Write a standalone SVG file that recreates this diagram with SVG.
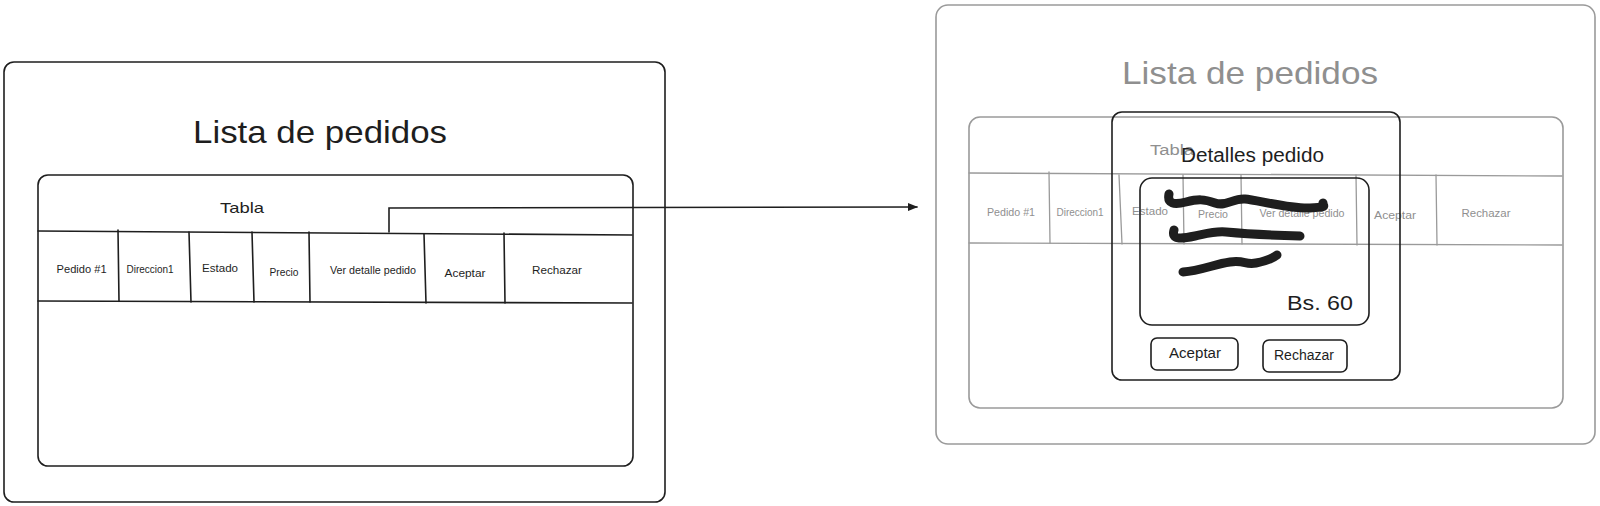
<svg xmlns="http://www.w3.org/2000/svg" width="1600" height="506" viewBox="0 0 1600 506">
<defs>
<style>
.box{fill:none;stroke:#1e1e1e;stroke-width:1.6;}
.ln{fill:none;stroke:#1e1e1e;stroke-width:1.6;stroke-linecap:round;}
.gbox{fill:none;stroke:#9a9a9a;stroke-width:1.6;}
.gln{fill:none;stroke:#9a9a9a;stroke-width:1.3;stroke-linecap:round;}
.t{font-family:"Liberation Sans",Arial,sans-serif;fill:#1e1e1e;}
.gt{font-family:"Liberation Sans",Arial,sans-serif;fill:#8f8f8f;}
.scr{fill:none;stroke:#1e1e1e;stroke-width:9;stroke-linecap:round;stroke-linejoin:round;}
</style>
<marker id="arr" markerWidth="10" markerHeight="8" refX="9" refY="4" orient="auto" markerUnits="userSpaceOnUse">
<path d="M0,0 L10,4 L0,8 Z" fill="#1e1e1e"/>
</marker>
</defs>
<rect width="1600" height="506" fill="#ffffff"/>

<g id="screen-list">
<rect class="box" x="4" y="62" width="661" height="440" rx="10"/>
<text class="t" x="193" y="143" font-size="32" textLength="254" lengthAdjust="spacingAndGlyphs">Lista de pedidos</text>
</g>

<g id="table-left">
<rect class="box" x="38" y="175" width="595" height="291" rx="10"/>
<text class="t" x="220" y="213" font-size="15" textLength="44" lengthAdjust="spacingAndGlyphs">Tabla</text>
<path class="ln" d="M38,231 L632,235"/>
<path class="ln" d="M38,301 L632,303"/>
<path class="ln" d="M118,230 L119,301"/>
<path class="ln" d="M189,232 L191,302"/>
<path class="ln" d="M252,232 L254,302"/>
<path class="ln" d="M309,232 L310,302"/>
<path class="ln" d="M424,234 L426,303"/>
<path class="ln" d="M504,233 L505,303"/>
<text class="t" x="81.6" y="273" font-size="10" text-anchor="middle" textLength="50" lengthAdjust="spacingAndGlyphs">Pedido #1</text>
<text class="t" x="150" y="273" font-size="10" text-anchor="middle" textLength="47" lengthAdjust="spacingAndGlyphs">Direccion1</text>
<text class="t" x="220" y="272" font-size="10" text-anchor="middle" textLength="36" lengthAdjust="spacingAndGlyphs">Estado</text>
<text class="t" x="284" y="276" font-size="10" text-anchor="middle" textLength="29" lengthAdjust="spacingAndGlyphs">Precio</text>
<text class="t" x="373" y="274" font-size="10" text-anchor="middle" textLength="86" lengthAdjust="spacingAndGlyphs">Ver detalle pedido</text>
<text class="t" x="465" y="277" font-size="10" text-anchor="middle" textLength="41" lengthAdjust="spacingAndGlyphs">Aceptar</text>
<text class="t" x="557" y="274" font-size="10" text-anchor="middle" textLength="50" lengthAdjust="spacingAndGlyphs">Rechazar</text>
</g>

<g id="connectors">
<path class="ln" d="M389,232 L389,208 L917,207" marker-end="url(#arr)"/>
</g>

<g id="screen-detail-bg">
<rect class="gbox" x="936" y="5" width="659" height="439" rx="12"/>
<text class="gt" x="1122" y="84" font-size="32" textLength="256" lengthAdjust="spacingAndGlyphs">Lista de pedidos</text>
<rect class="gbox" x="969" y="117" width="594" height="291" rx="11"/>
<text class="gt" x="1150" y="155" font-size="14" textLength="44" lengthAdjust="spacingAndGlyphs">Tabla</text>
<path class="gln" d="M969,173 L1562,176"/>
<path class="gln" d="M969,243 L1562,245"/>
<path class="gln" d="M1049,172 L1050,243"/>
<path class="gln" d="M1119,175 L1122,244"/>
<path class="gln" d="M1183,175 L1184,244"/>
<path class="gln" d="M1241,175 L1242,244"/>
<path class="gln" d="M1356,175 L1357,245"/>
<path class="gln" d="M1436,175 L1437,245"/>
<text class="gt" x="1011" y="216" font-size="10" text-anchor="middle" textLength="48" lengthAdjust="spacingAndGlyphs">Pedido #1</text>
<text class="gt" x="1080" y="216" font-size="10" text-anchor="middle" textLength="47" lengthAdjust="spacingAndGlyphs">Direccion1</text>
<text class="gt" x="1150" y="215" font-size="10" text-anchor="middle" textLength="36" lengthAdjust="spacingAndGlyphs">Estado</text>
<text class="gt" x="1213" y="218" font-size="10" text-anchor="middle" textLength="30" lengthAdjust="spacingAndGlyphs">Precio</text>
<text class="gt" x="1302" y="217" font-size="10" text-anchor="middle" textLength="85" lengthAdjust="spacingAndGlyphs">Ver detalle pedido</text>
<text class="gt" x="1395" y="219" font-size="10" text-anchor="middle" textLength="42" lengthAdjust="spacingAndGlyphs">Aceptar</text>
<text class="gt" x="1486" y="217" font-size="10" text-anchor="middle" textLength="49" lengthAdjust="spacingAndGlyphs">Rechazar</text>
</g>

<g id="popup-detalles">
<rect class="box" x="1112" y="112" width="288" height="268" rx="10"/>
<text class="t" x="1181" y="162" font-size="20" textLength="143" lengthAdjust="spacingAndGlyphs">Detalles pedido</text>
<rect class="box" x="1140" y="178" width="229" height="147" rx="12"/>
<path class="scr" d="M1169,194 C1167,204 1174,205 1186,202 S1204,199 1215,203 S1233,198 1245,199 S1290,209 1310,208 S1322,206 1323,203"/>
<path class="scr" d="M1174,230 C1171,240 1181,239 1195,236 S1215,231 1226,232 S1265,235 1300,236"/>
<path class="scr" d="M1183,272 C1200,271 1215,264 1230,262 S1245,265 1256,263 S1272,259 1277,255"/>
<text class="t" x="1353" y="310" font-size="21" text-anchor="end" textLength="66" lengthAdjust="spacingAndGlyphs">Bs. 60</text>
</g>

<g id="btn-aceptar">
<rect class="box" x="1151" y="338" width="87" height="32" rx="6"/>
<text class="t" x="1195" y="358" font-size="14" text-anchor="middle" textLength="52" lengthAdjust="spacingAndGlyphs">Aceptar</text>
</g>

<g id="btn-rechazar">
<rect class="box" x="1263" y="340" width="84" height="32" rx="6"/>
<text class="t" x="1304" y="360" font-size="14" text-anchor="middle" textLength="60" lengthAdjust="spacingAndGlyphs">Rechazar</text>
</g>
</svg>
